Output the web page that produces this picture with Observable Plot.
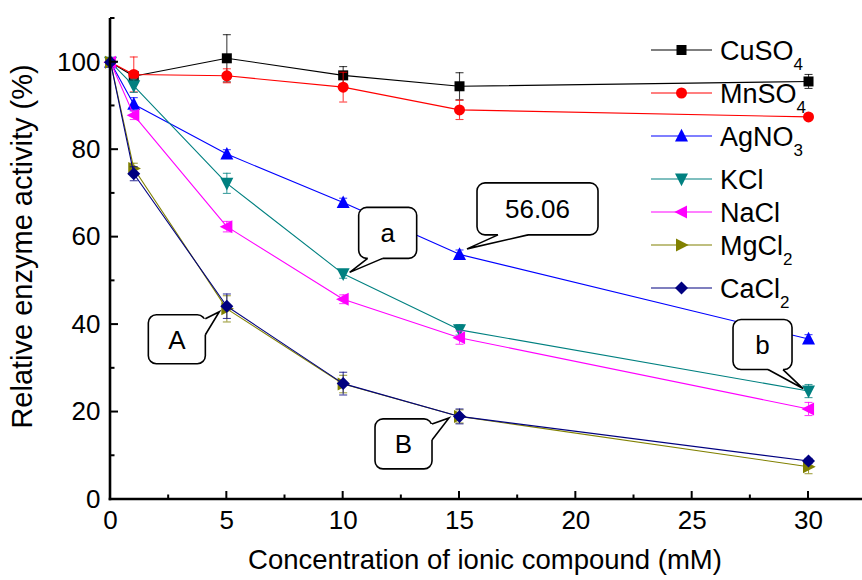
<!DOCTYPE html>
<html><head><meta charset="utf-8">
<script src="https://cdn.jsdelivr.net/npm/d3@7"></script>
<script src="https://cdn.jsdelivr.net/npm/@observablehq/plot@0.6"></script>
<style>body{margin:0;background:#fff}#chart{width:862px;height:580px}</style>
</head><body><div id="chart"></div>
<script>
// ---------- data ----------
const concentrations = [0, 1, 5, 10, 15, 30];
const seriesNames = ["CuSO4", "MnSO4", "AgNO3", "KCl", "NaCl", "MgCl2", "CaCl2"];
const cuso4 = [100, 96.8, 100.9, 97.0, 94.5, 95.6];
const cuso4Err = [0.5, 1.0, 5.4, 2.0, 3.1, 1.6];
const mnso4 = [100, 97.2, 96.9, 94.3, 89.1, 87.5];
const mnso4Err = [0.5, 4.0, 1.6, 3.4, 2.2, 0.6];
const agno3 = [100, 90.4, 79.0, 67.9, 56.06, 36.7];
const agno3Err = [0.5, 1.5, 1.0, 1.0, 1.0, 1.0];
const kcl = [100, 94.6, 72.3, 51.6, 38.8, 24.8];
const kclErr = [0.5, 1.5, 2.3, 1.0, 1.2, 1.5];
const nacl = [100, 87.9, 62.4, 45.8, 37.0, 20.7];
const naclErr = [0.5, 1.0, 1.2, 1.0, 1.5, 1.5];
const mgcl2 = [100, 75.7, 43.6, 26.4, 19.0, 7.5];
const mgcl2Err = [0.5, 1.2, 3.0, 2.0, 1.5, 1.6];
const cacl2 = [100, 74.5, 44.2, 26.5, 19.0, 8.8];
const cacl2Err = [0.5, 1.6, 2.8, 2.6, 1.7, 0.6];
const xTicks = [0, 5, 10, 15, 20, 25, 30];
const xMinorTicks = [2.5, 7.5, 12.5, 17.5, 22.5, 27.5];
const yTicks = [0, 20, 40, 60, 80, 100];
const yMinorTicks = [10, 30, 50, 70, 90, 110];
const xTitle = "Concentration of ionic compound (mM)";
const yTitle = "Relative enzyme activity (%)";
// callouts: label, series, point index
const calloutLabels = ["56.06", "a", "A", "B", "b"];
const calloutSeries = ["AgNO3", "KCl", "CaCl2", "CaCl2", "KCl"];
const calloutIndex = [4, 3, 2, 4, 5];

// ---------- styles ----------
const FONT = "Liberation Sans, Arial, Helvetica, sans-serif";
const values = [cuso4, mnso4, agno3, kcl, nacl, mgcl2, cacl2];
const errors = [cuso4Err, mnso4Err, agno3Err, kclErr, naclErr, mgcl2Err, cacl2Err];
const colors = ["#000000", "#ff0000", "#0000ff", "#008080", "#ff00ff", "#808000", "#000080"];
const rOf = s => Math.sqrt(s / Math.PI);
const sym = {
  square: {draw(c, s) { const r = rOf(s); c.moveTo(-r, -r); c.lineTo(r, -r); c.lineTo(r, r); c.lineTo(-r, r); c.closePath(); }},
  circle: {draw(c, s) { const r = rOf(s); c.moveTo(r, 0); c.arc(0, 0, r, 0, 2 * Math.PI); c.closePath(); }},
  triUp: {draw(c, s) { const r = rOf(s); c.moveTo(0, -r * 1.1); c.lineTo(r, r * 0.85); c.lineTo(-r, r * 0.85); c.closePath(); }},
  triDown: {draw(c, s) { const r = rOf(s); c.moveTo(0, r * 1.1); c.lineTo(r, -r * 0.85); c.lineTo(-r, -r * 0.85); c.closePath(); }},
  triLeft: {draw(c, s) { const r = rOf(s); c.moveTo(-r * 1.1, 0); c.lineTo(r * 0.85, -r); c.lineTo(r * 0.85, r); c.closePath(); }},
  triRight: {draw(c, s) { const r = rOf(s); c.moveTo(r * 1.1, 0); c.lineTo(-r * 0.85, -r); c.lineTo(-r * 0.85, r); c.closePath(); }},
  diamond: {draw(c, s) { const r = rOf(s); c.moveTo(0, -r); c.lineTo(r, 0); c.lineTo(0, r); c.lineTo(-r, 0); c.closePath(); }},
  cap: {draw(c, s) { const r = rOf(s); c.moveTo(-r, 0); c.lineTo(r, 0); }}
};
const markers = [sym.square, sym.circle, sym.triUp, sym.triDown, sym.triLeft, sym.triRight, sym.diamond];
const markerR = [5, 5.5, 6.5, 6.5, 6.5, 6.5, 6.5];

// tidy rows
const seriesRows = seriesNames.map((name, si) => concentrations.map((c, i) => ({
  name, x: c, y: values[si][i], lo: values[si][i] - errors[si][i], hi: values[si][i] + errors[si][i]
})));

// ---------- custom marks ----------
function axesMark(index, scales, vals, dims) {
  const {x, y} = scales;
  const g = d3.create("svg:g");
  const left = dims.marginLeft, right = dims.width - dims.marginRight;
  const bottom = dims.height - dims.marginBottom, top = dims.marginTop;
  g.append("line").attr("x1", left).attr("x2", left).attr("y1", top).attr("y2", bottom + 1.2)
    .attr("stroke", "#000").attr("stroke-width", 2.6);
  g.append("line").attr("x1", left - 1.3).attr("x2", right).attr("y1", bottom).attr("y2", bottom)
    .attr("stroke", "#000").attr("stroke-width", 2.6);
  const tick = (x1, y1, x2, y2) => g.append("line").attr("x1", x1).attr("y1", y1).attr("x2", x2).attr("y2", y2)
    .attr("stroke", "#000").attr("stroke-width", 2);
  xTicks.forEach(t => tick(x(t), bottom, x(t), bottom - 8));
  xMinorTicks.forEach(t => tick(x(t), bottom, x(t), bottom - 4.5));
  yTicks.forEach(t => tick(left, y(t), left + 8, y(t)));
  yMinorTicks.forEach(t => tick(left, y(t), left + 4.5, y(t)));
  g.append("text").attr("x", (left + right) / 2 - 1).attr("y", dims.height - 11)
    .attr("text-anchor", "middle").attr("font-family", FONT).attr("font-size", 27.5).text(xTitle);
  g.append("text").attr("transform", `translate(32,${(top + bottom) / 2 - 12}) rotate(-90)`)
    .attr("text-anchor", "middle").attr("font-family", FONT).attr("font-size", 29).text(yTitle);
  return g.node();
}

function legendMark(index, scales, vals, dims) {
  const g = d3.create("svg:g");
  const lx = dims.width - 211;
  let yy = dims.marginTop + 32;
  seriesNames.forEach((name, i) => {
    const m = name.match(/^(.*?)(\d+)$/);
    const main = m ? m[1] : name, sub = m ? m[2] : null;
    g.append("line").attr("x1", lx).attr("x2", lx + 61).attr("y1", yy).attr("y2", yy)
      .attr("stroke", colors[i]).attr("stroke-width", 1.2);
    g.append("path").attr("transform", `translate(${lx + 30.5},${yy})`)
      .attr("d", d3.symbol(markers[i], Math.PI * markerR[i] ** 2)()).attr("fill", colors[i]);
    const t = g.append("text").attr("x", lx + 69).attr("y", yy + 10).attr("text-anchor", "start")
      .attr("font-family", FONT).attr("font-size", 27).attr("fill", "#000");
    t.append("tspan").text(main);
    if (sub) t.append("tspan").attr("dy", 10).attr("font-size", 17).text(sub);
    yy += sub ? 43 : 33;
  });
  return g.node();
}

// callout geometry (pixels relative to the targeted data point)
const calloutLayout = [
  {bx: 18, by: -71, w: 121, h: 52, side: "bottom", b1: 21, b2: 51, tx: 8, ty: -5},
  {bx: 16, by: -66, w: 58, h: 51, side: "bottom", b1: 9, b2: 24, tx: 7, ty: -1},
  {bx: -78, by: 9, w: 57, h: 49, side: "right", b1: 4, b2: 20, tx: -7, ty: 6},
  {bx: -84, by: 3, w: 57, h: 50, side: "right", b1: 5, b2: 21, tx: -10, ty: 2},
  {bx: -75, by: -71, w: 59, h: 50, side: "bottom", b1: 35, b2: 50, tx: -5, ty: -2}
];
function calloutMark(index, scales, vals, dims) {
  const {x, y} = scales;
  const g = d3.create("svg:g");
  calloutLabels.forEach((label, k) => {
    const si = seriesNames.indexOf(calloutSeries[k]);
    const px = x(concentrations[calloutIndex[k]]), py = y(values[si][calloutIndex[k]]);
    const L = calloutLayout[k];
    const x0 = px + L.bx, y0 = py + L.by, w = L.w, h = L.h;
    g.append("rect").attr("x", x0).attr("y", y0).attr("width", w).attr("height", h)
      .attr("rx", 8).attr("ry", 8).attr("fill", "#fff").attr("stroke", "#000").attr("stroke-width", 1.6);
    const tip = [px + L.tx, py + L.ty];
    let p1, p2, q1, q2;
    if (L.side === "bottom") {
      p1 = [x0 + L.b1, y0 + h]; p2 = [x0 + L.b2, y0 + h];
      q1 = [x0 + L.b1, y0 + h - 3]; q2 = [x0 + L.b2, y0 + h - 3];
    } else {
      p1 = [x0 + w, y0 + L.b1]; p2 = [x0 + w, y0 + L.b2];
      q1 = [x0 + w - 3, y0 + L.b1]; q2 = [x0 + w - 3, y0 + L.b2];
    }
    g.append("path").attr("d", `M${q1}L${p1}L${tip}L${p2}L${q2}Z`).attr("fill", "#fff");
    g.append("path").attr("d", `M${p1}L${tip}L${p2}`).attr("fill", "none")
      .attr("stroke", "#000").attr("stroke-width", 1.6).attr("stroke-linejoin", "miter");
    g.append("text").attr("x", x0 + w / 2).attr("y", y0 + h / 2 + 9.5)
      .attr("text-anchor", "middle").attr("font-family", FONT).attr("font-size", 26).text(label);
  });
  return g.node();
}

// ---------- marks ----------
const marks = [];
seriesRows.forEach((rows, si) => {
  marks.push(Plot.line(rows, {x: "x", y: "y", stroke: colors[si], strokeWidth: 1.1}));
  marks.push(Plot.ruleX(rows, {x: "x", y1: "lo", y2: "hi", stroke: colors[si], strokeWidth: 1.1, strokeOpacity: 0.75}));
  marks.push(Plot.dot(rows, {x: "x", y: "lo", symbol: sym.cap, r: 4, fill: "none", stroke: colors[si], strokeWidth: 1.1, strokeOpacity: 0.75}));
  marks.push(Plot.dot(rows, {x: "x", y: "hi", symbol: sym.cap, r: 4, fill: "none", stroke: colors[si], strokeWidth: 1.1, strokeOpacity: 0.75}));
  marks.push(Plot.dot(rows, {x: "x", y: "y", symbol: markers[si], r: markerR[si], fill: colors[si], stroke: "none"}));
});

const chart = Plot.plot({
  width: 862, height: 580,
  marginLeft: 110, marginRight: 0, marginTop: 18, marginBottom: 81,
  style: {fontFamily: FONT, background: "#fff", overflow: "visible", color: "#000"},
  x: {domain: [0, 32.32], axis: null},
  y: {domain: [0, 110], axis: null},
  marks: [
    Plot.axisX({ticks: xTicks, tickSize: 0, tickPadding: 11, fontSize: 26, label: null, tickFormat: d => String(d)}),
    Plot.axisY({ticks: yTicks, tickSize: 0, tickPadding: 10, fontSize: 26, label: null, tickFormat: d => String(d)}),
    ...marks,
    calloutMark,
    legendMark,
    axesMark
  ]
});
document.getElementById("chart").appendChild(chart);
</script>
</body></html>
